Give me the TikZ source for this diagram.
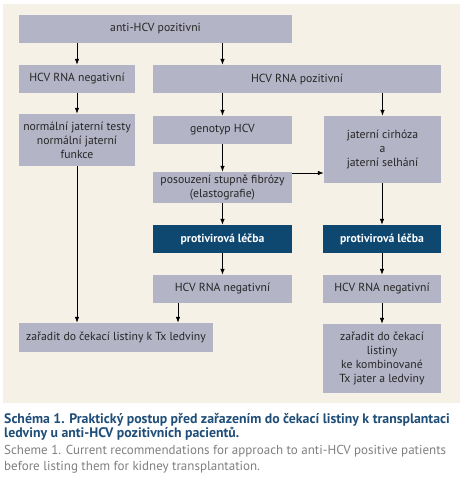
\documentclass[tikz,border=0pt]{standalone}
\usepackage{fontspec}
\setmainfont{PT Sans}
\usetikzlibrary{arrows.meta}
\definecolor{bgc}{HTML}{F6F1E7}
\definecolor{boxc}{HTML}{B4B4C7}
\definecolor{darkc}{HTML}{0E4870}
\definecolor{capblue}{HTML}{1F4E79}
\definecolor{capgray}{HTML}{808080}
\begin{document}
\begin{tikzpicture}[x=1pt,y=-1pt,
  gbox/.style={fill=boxc,inner sep=0pt,align=center,font=\fontsize{11.7}{14}\selectfont,text=black!85},
  dbox/.style={fill=darkc,inner sep=0pt,align=center,font=\fontsize{11.7}{14}\selectfont\bfseries,text=white},
  capb/.style={anchor=base west,inner sep=0pt,text=capblue,font=\fontsize{13.8}{16}\selectfont\bfseries},
  capg/.style={anchor=base west,inner sep=0pt,text=capgray,font=\fontsize{13}{16}\selectfont},
  arr/.style={-{Latex[length=6pt,width=4.5pt]},line width=0.7pt,black}]
\useasboundingbox (0,0) rectangle (463,477);
\fill[white] (0,0) rectangle (463,477);
\fill[bgc] (3,4) rectangle (460,403);
% boxes
\node[gbox,minimum width=273pt,minimum height=28pt] (a) at (155.5,29) {anti-HCV pozitivni};
\node[gbox,minimum width=116pt,minimum height=28pt] (neg) at (77,79) {HCV RNA negativní};
\node[gbox,minimum width=288pt,minimum height=28pt] (poz) at (297,79) {HCV RNA pozitivní};
\node[gbox,minimum width=116pt,minimum height=52pt] (norm) at (77,140) {normální jaterní testy\\normální jaterní\\funkce};
\node[gbox,minimum width=139pt,minimum height=28pt] (gen) at (222.5,130) {genotyp HCV};
\node[gbox,minimum width=117pt,minimum height=67pt] (cir) at (382.5,149.5) {jaterní cirhóza\\a\\jaterní selhání};
\node[gbox,minimum width=139pt,minimum height=31pt] (pos) at (222.5,187.5) {posouzení stupně fibrózy\\(elastografie)};
\node[dbox,minimum width=139pt,minimum height=28pt] (pl) at (222.5,239) {protivirová léčba};
\node[dbox,minimum width=118pt,minimum height=28pt] (pr) at (382,239) {protivirová léčba};
\node[gbox,minimum width=139pt,minimum height=28pt] (nl) at (222.5,289) {HCV RNA negativní};
\node[gbox,minimum width=118pt,minimum height=28pt] (nr) at (382,289) {HCV RNA negativní};
\node[gbox,minimum width=194pt,minimum height=29pt] (zl) at (116,337.5) {zařadit do čekací listiny k Tx ledviny};
\node[gbox,minimum width=118pt,minimum height=69pt] (zr) at (382,358.5) {zařadit do čekací\\listiny\\ke kombinované\\Tx jater a ledviny};
% arrows
\draw[arr] (a.south -| neg) -- (neg.north);
\draw[arr] (a.south -| gen) -- (poz.north -| gen);
\draw[arr] (neg) -- (norm);
\draw[arr] (poz.south -| gen) -- (gen.north);
\draw[arr] (poz.south -| cir) -- (cir.north);
\draw[arr] (gen) -- (pos);
\coordinate (h) at (0,173);
\draw[arr] (pos.east |- h) -- (cir.west |- h);
\draw[arr] (pos) -- (pl);
\draw[arr] (cir.south -| pr) -- (pr.north);
\draw[arr] (pl) -- (nl);
\draw[arr] (pr) -- (nr);
\draw[arr] (norm.south) -- (zl.north -| norm);
\coordinate (v) at (178,0);
\draw[arr] (nl.south -| v) -- (zl.north -| v);
\draw[arr] (nr) -- (zr);
% caption
\node[capb] (c1) at (4,423) {Schéma 1. Praktický postup před zařazením do čekací listiny k transplantaci};
\node[capb] (c2) at (4,437) {ledviny u anti-HCV pozitivních pacientů.};
\node[capg] (c3) at (4,454) {Scheme 1. Current recommendations for approach to anti-HCV positive patients};
\node[capg] (c4) at (4,470) {before listing them for kidney transplantation.};
\end{tikzpicture}
\end{document}
